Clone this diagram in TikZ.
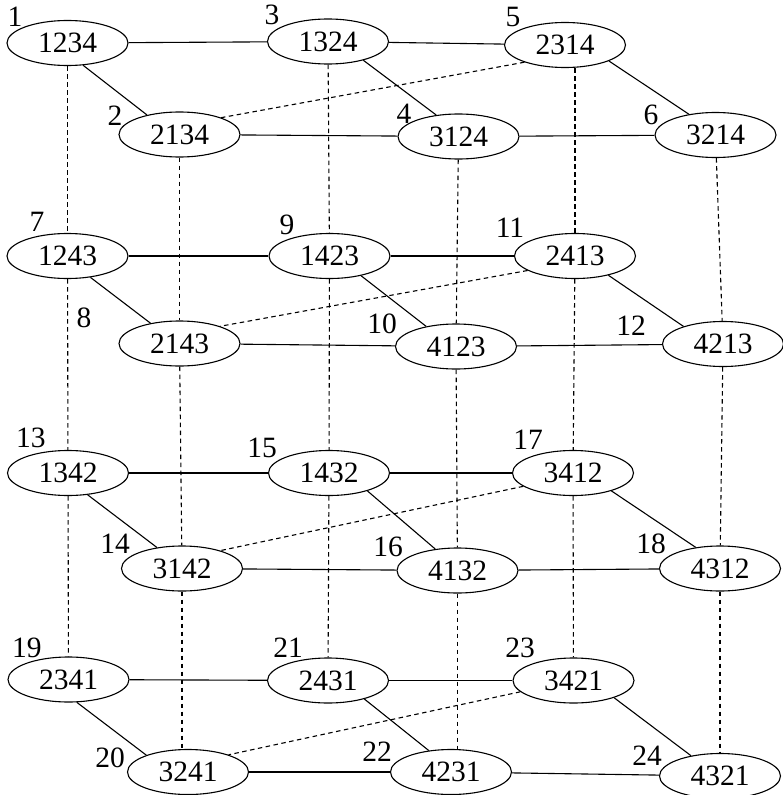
\documentclass[tikz,border=0pt]{standalone}
\usepackage{fontspec}
\setmainfont{Liberation Serif}
\usetikzlibrary{shapes.geometric}

\begin{document}
\begin{tikzpicture}[x=1pt,y=-1pt,
  perm/.style={draw,ellipse,line width=1.1pt,minimum width=121pt,minimum height=45pt,inner sep=0pt,font=\fontsize{29.5}{30}\selectfont},
  num/.style={inner sep=0pt,font=\fontsize{29.5}{30}\selectfont},
  edge/.style={line width=1.1pt},
  link/.style={line width=1.1pt,dash pattern=on 4.5pt off 3.5pt}]
\useasboundingbox (0,0) rectangle (782,795);
% layer 1
\node[perm] (p1) at (67.5,43) {1234};
\node[perm] (p2) at (179.5,134.5) {2134};
\node[perm] (p3) at (328,41.5) {1324};
\node[perm] (p4) at (458.5,136.5) {3124};
\node[perm] (p5) at (565,45) {2314};
\node[perm] (p6) at (715.5,135) {3214};
\node[num] (l1) at (15,17) {1};
\node[num] (l2) at (115,116) {2};
\node[num] (l3) at (272,15) {3};
\node[num] (l4) at (404,114) {4};
\node[num] (l5) at (513,17) {5};
\node[num] (l6) at (651,115) {6};
\draw[edge] (p1)--(p3);
\draw[edge] (p3)--(p5);
\draw[edge] (p2)--(p4);
\draw[edge] (p4)--(p6);
\draw[edge] (p1.-55)--(p2.149);
\draw[edge] (p3.-28)--(p4.136);
\draw[edge] (p5.-20)--(p6.142);
\draw[link] (p5.203)--(p2.22);
% layer 2
\node[perm] (p7) at (67.5,256) {1243};
\node[perm] (p8) at (179.5,343.5) {2143};
\node[perm] (p9) at (329.5,256) {1423};
\node[perm] (p10) at (456,346.5) {4123};
\node[perm] (p11) at (575,256) {2413};
\node[perm] (p12) at (723,344) {4213};
\node[num] (l7) at (37,222) {7};
\node[num] (l8) at (84,317.5) {8};
\node[num] (l9) at (287,225) {9};
\node[num] (l10) at (382,324) {10};
\node[num] (l11) at (510,228) {11};
\node[num] (l12) at (631,326) {12};
\draw[edge] (p7)--(p9);
\draw[edge] (p9)--(p11);
\draw[edge] (p8)--(p10);
\draw[edge] (p10)--(p12);
\draw[edge] (p7.-43)--(p8.145);
\draw[edge] (p9.-32)--(p10.146);
\draw[edge] (p11.-30)--(p12.156);
\draw[link] (p11.197)--(p8.23);
% layer 3
\node[perm] (p13) at (68,473) {1342};
\node[perm] (p14) at (182,568.5) {3142};
\node[perm] (p15) at (329,473) {1432};
\node[perm] (p16) at (457.5,570.5) {4132};
\node[perm] (p17) at (573,473) {3412};
\node[perm] (p18) at (720,568.5) {4312};
\node[num] (l13) at (31,438) {13};
\node[num] (l14) at (115,544) {14};
\node[num] (l15) at (262,448) {15};
\node[num] (l16) at (388,547) {16};
\node[num] (l17) at (528,440) {17};
\node[num] (l18) at (651,544) {18};
\draw[edge] (p13)--(p15);
\draw[edge] (p15)--(p17);
\draw[edge] (p14)--(p16);
\draw[edge] (p16)--(p18);
\draw[edge] (p13.-48)--(p14.140);
\draw[edge] (p15.-25)--(p16.136);
\draw[edge] (p17.-25)--(p18.139);
\draw[link] (p17.195)--(p14.25);
% layer 4
\node[perm] (p19) at (68.5,679.5) {2341};
\node[perm] (p20) at (188,772) {3241};
\node[perm] (p21) at (328,680.5) {2431};
\node[perm] (p22) at (451,772) {4231};
\node[perm] (p23) at (573.5,680.5) {3421};
\node[perm] (p24) at (720,776) {4321};
\node[num] (l19) at (27,648) {19};
\node[num] (l20) at (110,758) {20};
\node[num] (l21) at (288,648) {21};
\node[num] (l22) at (377,752) {22};
\node[num] (l23) at (520,647.5) {23};
\node[num] (l24) at (647,756) {24};
\draw[edge] (p19)--(p21);
\draw[edge] (p21)--(p23);
\draw[edge] (p20)--(p22);
\draw[edge] (p22)--(p24);
\draw[edge] (p19.-70)--(p20.158);
\draw[edge] (p21.-27)--(p22.136);
\draw[edge] (p23.-23)--(p24.145);
\draw[link] (p23.192)--(p20.23);
% vertical links between layers
\draw[link] (p1)--(p7);
\draw[link] (p7)--(p13);
\draw[link] (p13)--(p19);
\draw[link] (p2)--(p8);
\draw[link] (p8)--(p14);
\draw[link] (p14)--(p14 |- p20.north);
\draw[link] (p3)--(p9);
\draw[link] (p9)--(p15);
\draw[link] (p15)--(p21);
\draw[link] (p4)--(p10);
\draw[link] (p10)--(p16);
\draw[link] (p16)--(p16 |- p22.north);
\draw[link] (p5.south -| p11)--(p11);
\draw[link] (p11)--(p17);
\draw[link] (p17)--(p23);
\draw[link] (p6)--(p12);
\draw[link] (p12)--(p18);
\draw[link] (p18)--(p24);
\end{tikzpicture}
\end{document}
